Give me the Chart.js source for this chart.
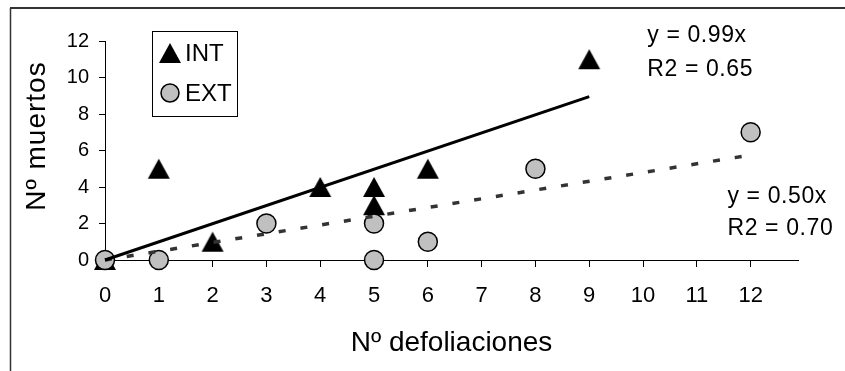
<!DOCTYPE html>
<html>
<head>
<meta charset="utf-8">
<script src="https://cdn.jsdelivr.net/npm/chart.js@4.4.3/dist/chart.umd.min.js"></script>
<style>
  html, body { margin: 0; padding: 0; background: #fff; }
</style>
</head>
<body>
<canvas id="chart" width="845" height="371"></canvas>
<script>
// values
const intX = [0, 1, 2, 4, 5, 5, 6, 9];
const intY = [0, 5, 1, 4, 4, 3, 5, 11];
const extX = [0, 1, 3, 5, 5, 6, 8, 12];
const extY = [0, 0, 2, 2, 0, 1, 5, 7];

// trend lines as drawn (start and end)
const intFitX = [0, 9];
const intFitY = [0, 8.95];
const extFitX = [0, 11.85];
const extFitY = [0, 5.68];

const xTicks = [0, 1, 2, 3, 4, 5, 6, 7, 8, 9, 10, 11, 12];
const yTicks = [0, 2, 4, 6, 8, 10, 12];
const seriesNames = ['INT', 'EXT'];
const intLabel = ['y = 0.99x', 'R2 = 0.65'];
const extLabel = ['y = 0.50x', 'R2 = 0.70'];

const FONT = "'Liberation Sans', Arial, sans-serif";
const pts = (xs, ys) => xs.map((x, i) => ({ x: x, y: ys[i] }));

// filled triangle marker, centred on its box like the original
function triangleMarker() {
  const c = document.createElement('canvas');
  c.width = 24; c.height = 22;
  const g = c.getContext('2d');
  g.fillStyle = '#000';
  g.beginPath();
  g.moveTo(12, 1); g.lineTo(23, 21); g.lineTo(1, 21);
  g.closePath();
  g.fill();
  return c;
}
const tri = triangleMarker();

const extras = {
  id: 'extras',
  beforeDraw(chart) {
    const ctx = chart.ctx;
    ctx.save();
    ctx.fillStyle = '#fff';
    ctx.fillRect(0, 0, chart.width, chart.height);
    // outer frame (only top and left visible)
    ctx.strokeStyle = '#333';
    ctx.lineWidth = 2;
    ctx.beginPath();
    ctx.moveTo(10, 8); ctx.lineTo(chart.width, 8);
    ctx.stroke();
    ctx.lineWidth = 1.5;
    ctx.beginPath();
    ctx.moveTo(10.5, 8); ctx.lineTo(10.5, chart.height);
    ctx.stroke();
    ctx.restore();
  },
  afterDraw(chart) {
    const ctx = chart.ctx;
    const ca = chart.chartArea;
    const xs = chart.scales.x, ys = chart.scales.y;
    ctx.save();

    // legend box
    const lx = ca.left + 47, ly = ca.top - 10;
    ctx.strokeStyle = '#000';
    ctx.lineWidth = 1;
    ctx.strokeRect(lx + 0.5, ly + 0.5, 85, 85);
    ctx.drawImage(tri, lx + 18 - tri.width / 2, ly + 22 - tri.height / 2);
    ctx.beginPath();
    ctx.arc(lx + 18, ly + 62, 9, 0, Math.PI * 2);
    ctx.fillStyle = '#c0c0c0';
    ctx.fill();
    ctx.lineWidth = 1.5;
    ctx.stroke();
    ctx.fillStyle = '#000';
    ctx.font = '24px ' + FONT;
    ctx.textBaseline = 'middle';
    ctx.textAlign = 'left';
    ctx.fillText(seriesNames[0], lx + 33, ly + 23);
    ctx.fillText(seriesNames[1], lx + 33, ly + 63);

    // trend line equations
    ctx.font = '23px ' + FONT;
    ctx.textBaseline = 'alphabetic';
    ctx.letterSpacing = '0.6px';
    ctx.fillText(intLabel[0], xs.getPixelForValue(10.08), ys.getPixelForValue(11.95));
    ctx.fillText(intLabel[1], xs.getPixelForValue(10.08), ys.getPixelForValue(10.1));
    ctx.fillText(extLabel[0], xs.getPixelForValue(11.57), ys.getPixelForValue(3.14));
    ctx.fillText(extLabel[1], xs.getPixelForValue(11.57), ys.getPixelForValue(1.37));

    // y axis title
    ctx.letterSpacing = '1px';
    ctx.font = '28px ' + FONT;
    ctx.textAlign = 'center';
    ctx.textBaseline = 'middle';
    ctx.translate(37, 136);
    ctx.rotate(-Math.PI / 2);
    ctx.fillText('Nº muertos', 0, 0);
    ctx.restore();
  }
};

new Chart(document.getElementById('chart'), {
  type: 'scatter',
  data: {
    datasets: [
      {
        label: 'INT fit',
        data: pts(intFitX, intFitY),
        showLine: true,
        borderColor: '#000',
        borderWidth: 3,
        pointRadius: 0,
        clip: false
      },
      {
        label: 'EXT fit',
        data: pts(extFitX, extFitY),
        showLine: true,
        borderColor: '#333',
        borderWidth: 3.5,
        borderDash: [7, 15],
        pointRadius: 0,
        clip: false
      },
      {
        label: 'EXT',
        data: pts(extX, extY),
        pointStyle: 'circle',
        pointRadius: 9.5,
        backgroundColor: '#c0c0c0',
        borderColor: '#000',
        borderWidth: 1.5,
        clip: false
      },
      {
        label: 'INT',
        data: pts(intX, intY),
        pointStyle: tri,
        pointRadius: 11,
        backgroundColor: '#000',
        borderColor: '#000',
        clip: false
      }
    ]
  },
  options: {
    responsive: false,
    animation: false,
    events: [],
    layout: { padding: { top: 41, right: 47, left: 0, bottom: 0 } },
    plugins: { legend: { display: false }, tooltip: { enabled: false } },
    scales: {
      x: {
        type: 'linear',
        min: 0,
        max: 12.88,
        afterBuildTicks: s => { s.ticks = xTicks.map(v => ({ value: v })); },
        afterFit: s => { s.height = 111; },
        border: { color: '#000', width: 1 },
        grid: { drawOnChartArea: false, tickLength: 7, color: '#000' },
        ticks: { color: '#000', font: { family: FONT, size: 22 }, padding: 16, maxRotation: 0, autoSkip: false },
        title: {
          display: true,
          text: 'Nº defoliaciones',
          color: '#000',
          font: { family: FONT, size: 28 },
          padding: { top: 0, bottom: 11 }
        }
      },
      y: {
        type: 'linear',
        min: 0,
        max: 12,
        afterBuildTicks: s => { s.ticks = yTicks.map(v => ({ value: v })); },
        afterFit: s => { s.width = 105; },
        border: { color: '#000', width: 1 },
        grid: { drawOnChartArea: false, tickLength: 6, color: '#000' },
        ticks: { color: '#000', font: { family: FONT, size: 20 }, padding: 10 }
      }
    }
  },
  plugins: [extras]
});
</script>
</body>
</html>
